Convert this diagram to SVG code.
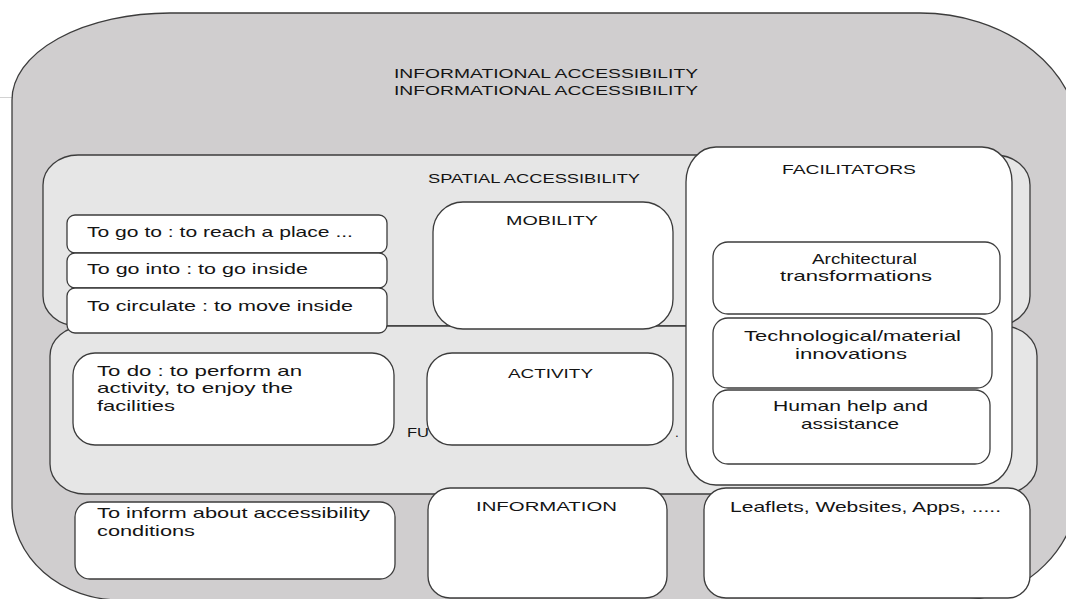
<svg xmlns="http://www.w3.org/2000/svg" width="1066" height="599" viewBox="0 0 1066 599">
  <style>
    .edge { stroke: #3c3c3c; stroke-width: 1.3; }
    .outer { fill: #d0cecf; }
    .band { fill: #e6e6e6; }
    .box { fill: #ffffff; }
    text { font-family: "Liberation Sans", Arial, sans-serif; font-size: 14.5px; fill: #141414; }
    .head { font-size: 13.5px; }
  </style>

  <!-- thin rule at the left margin -->
  <line x1="0" y1="97.5" x2="14" y2="97.5" stroke="#d2d2d2" stroke-width="1"/>

  <!-- informational accessibility (outer frame) -->
  <g id="informational">
    <path class="outer edge" d="M12,100 A158,87 0 0 1 170,13 L920,13 A160,129 0 0 1 1080,142 L1080,480 A120,120 0 0 1 960,600 L120,600 A108,95 0 0 1 12,505 Z"/>
    <text class="head" x="394" y="78" textLength="304" lengthAdjust="spacingAndGlyphs">INFORMATIONAL ACCESSIBILITY</text>
    <text class="head" x="394" y="95" textLength="304" lengthAdjust="spacingAndGlyphs">INFORMATIONAL ACCESSIBILITY</text>
  </g>

  <!-- spatial accessibility band -->
  <g id="spatial">
    <rect class="band edge" x="43" y="155" width="987" height="171" rx="35" ry="30"/>
    <text class="head" x="428" y="183" textLength="212" lengthAdjust="spacingAndGlyphs">SPATIAL ACCESSIBILITY</text>
  </g>

  <!-- functional accessibility band -->
  <g id="functional">
    <rect class="band edge" x="50" y="326" width="987" height="168" rx="35" ry="30"/>
    <text class="head" x="407" y="437" textLength="22" lengthAdjust="spacingAndGlyphs">FU</text>
    <text class="head" x="675" y="437">.</text>
  </g>

  <!-- spatial actions -->
  <g id="go-to">
    <rect class="box edge" x="67" y="215" width="320" height="38" rx="8"/>
    <text x="87" y="237" textLength="266" lengthAdjust="spacingAndGlyphs">To go to : to reach a place ...</text>
  </g>
  <g id="go-into">
    <rect class="box edge" x="67" y="253" width="320" height="35" rx="8"/>
    <text x="87" y="274" textLength="221" lengthAdjust="spacingAndGlyphs">To go into : to go inside</text>
  </g>
  <g id="circulate">
    <rect class="box edge" x="67" y="288" width="320" height="45" rx="8"/>
    <text x="87" y="311" textLength="266" lengthAdjust="spacingAndGlyphs">To circulate : to move inside</text>
  </g>

  <g id="mobility">
    <rect class="box edge" x="433" y="202" width="240" height="127" rx="30"/>
    <text class="head" x="506" y="225" textLength="92" lengthAdjust="spacingAndGlyphs">MOBILITY</text>
  </g>

  <!-- functional actions -->
  <g id="to-do">
    <rect class="box edge" x="73" y="353" width="321" height="92" rx="22"/>
    <text x="97" y="376" textLength="205" lengthAdjust="spacingAndGlyphs">To do : to perform an</text>
    <text x="97" y="393" textLength="196" lengthAdjust="spacingAndGlyphs">activity, to enjoy the</text>
    <text x="97" y="411" textLength="78" lengthAdjust="spacingAndGlyphs">facilities</text>
  </g>
  <g id="activity">
    <rect class="box edge" x="427" y="353" width="246" height="92" rx="25"/>
    <text class="head" x="508" y="378" textLength="85" lengthAdjust="spacingAndGlyphs">ACTIVITY</text>
  </g>

  <!-- facilitators column -->
  <g id="facilitators">
    <rect class="box edge" x="686" y="147" width="326" height="338" rx="30" ry="35"/>
    <text class="head" x="782" y="174" textLength="134" lengthAdjust="spacingAndGlyphs">FACILITATORS</text>
  </g>
  <g id="architectural">
    <rect class="box edge" x="713" y="242" width="287" height="72" rx="15"/>
    <text x="812" y="264" textLength="105" lengthAdjust="spacingAndGlyphs">Architectural</text>
    <text x="780" y="281" textLength="152" lengthAdjust="spacingAndGlyphs">transformations</text>
  </g>
  <g id="technological">
    <rect class="box edge" x="713" y="318" width="279" height="70" rx="15"/>
    <text x="744" y="341" textLength="217" lengthAdjust="spacingAndGlyphs">Technological/material</text>
    <text x="795" y="359" textLength="112" lengthAdjust="spacingAndGlyphs">innovations</text>
  </g>
  <g id="human-help">
    <rect class="box edge" x="713" y="390" width="277" height="74" rx="15"/>
    <text x="773" y="411" textLength="155" lengthAdjust="spacingAndGlyphs">Human help and</text>
    <text x="801" y="429" textLength="98" lengthAdjust="spacingAndGlyphs">assistance</text>
  </g>

  <!-- informational row -->
  <g id="inform">
    <rect class="box edge" x="75" y="502" width="320" height="77" rx="15"/>
    <text x="97" y="518" textLength="273" lengthAdjust="spacingAndGlyphs">To inform about accessibility</text>
    <text x="97" y="536" textLength="98" lengthAdjust="spacingAndGlyphs">conditions</text>
  </g>
  <g id="information">
    <rect class="box edge" x="428" y="488" width="239" height="110" rx="22"/>
    <text class="head" x="476" y="511" textLength="141" lengthAdjust="spacingAndGlyphs">INFORMATION</text>
  </g>
  <g id="leaflets">
    <rect class="box edge" x="704" y="488" width="326" height="110" rx="22"/>
    <text x="730" y="512" textLength="271" lengthAdjust="spacingAndGlyphs">Leaflets, Websites, Apps, .....</text>
  </g>

  <g id="connectors"/>
</svg>
